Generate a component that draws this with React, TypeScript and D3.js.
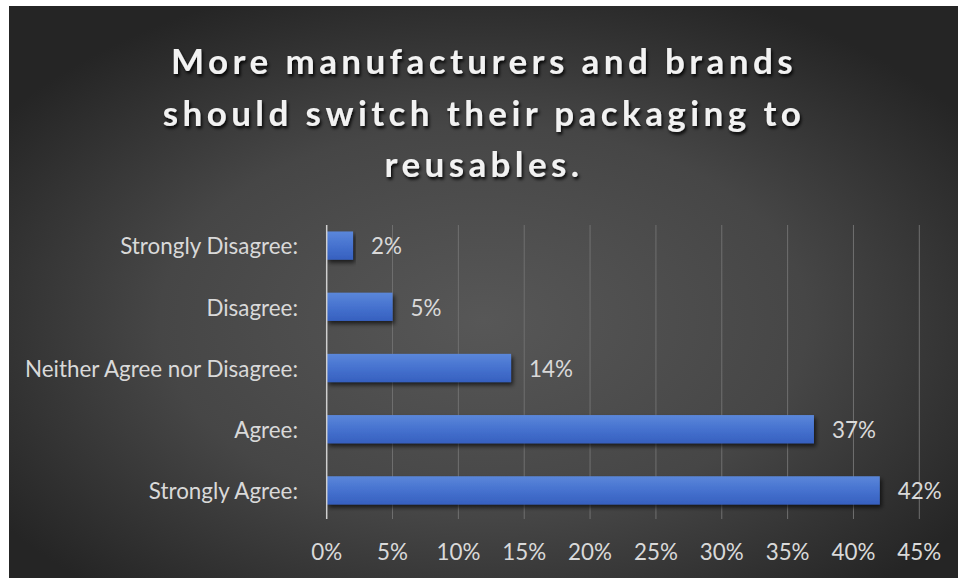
import React from "react";
import * as d3 from "d3";

const categories = [
  "Strongly Disagree:",
  "Disagree:",
  "Neither Agree nor Disagree:",
  "Agree:",
  "Strongly Agree:",
];
const values = [2, 5, 14, 37, 42];
const tickValues = [0, 5, 10, 15, 20, 25, 30, 35, 40, 45];
const titleLines = [
  "More manufacturers and brands",
  "should switch their packaging to",
  "reusables.",
];

const W = 958;
const H = 578;
const FONT = "Lato, 'Open Sans', sans-serif";

export default function App() {
  const x = d3.scaleLinear().domain([0, 45]).range([326.7, 919.3]);
  const y = d3
    .scaleBand<string>()
    .domain(categories)
    .range([215, 521])
    .paddingInner(0.538)
    .paddingOuter(0.269);
  const gridTop = 225;
  const gridBottom = 519;
  const fs = 22.4;

  return (
    <div style={{ position: "absolute", left: 0, top: 0 }}>
      <svg width={W} height={H} style={{ display: "block" }}>
        <defs>
          <radialGradient id="bg" cx="0.5" cy="0.55" r="0.62">
            <stop offset="0" stopColor="#575757" />
            <stop offset="0.55" stopColor="#464646" />
            <stop offset="1" stopColor="#252525" />
          </radialGradient>
          <linearGradient id="bar" x1="0" y1="0" x2="0" y2="1">
            <stop offset="0" stopColor="#5b87da" />
            <stop offset="0.5" stopColor="#4672cf" />
            <stop offset="1" stopColor="#3660bf" />
          </linearGradient>
          <filter id="barShadow" x="-10%" y="-30%" width="120%" height="180%">
            <feDropShadow dx="2" dy="3" stdDeviation="2" floodColor="#000" floodOpacity="0.65" />
          </filter>
          <filter id="titleShadow" x="-10%" y="-30%" width="120%" height="180%">
            <feDropShadow dx="1.5" dy="2.5" stdDeviation="1.8" floodColor="#000" floodOpacity="0.9" />
          </filter>
        </defs>
        <rect x={0} y={0} width={W} height={H} fill="#ffffff" />
        <rect x={9} y={6} width={W - 9} height={H - 6} fill="url(#bg)" />

        {/* title */}
        <g filter="url(#titleShadow)">
          {titleLines.map((t, i) => (
            <text
              key={i}
              x={484}
              y={74 + i * 51.5}
              textAnchor="middle"
              fill="#f2f2f2"
              fontFamily={FONT}
              fontWeight={700}
              fontSize={35}
              letterSpacing={4.4}
            >
              {t}
            </text>
          ))}
        </g>

        {/* gridlines */}
        {tickValues.slice(1).map((t) => (
          <line
            key={t}
            x1={x(t)}
            x2={x(t)}
            y1={gridTop}
            y2={gridBottom}
            stroke="#707070"
            strokeWidth={1}
          />
        ))}

        {/* bars */}
        {categories.map((c, i) => (
          <rect
            key={c}
            x={x(0)}
            y={y(c)}
            width={x(values[i]) - x(0)}
            height={y.bandwidth()}
            fill="url(#bar)"
            filter="url(#barShadow)"
          />
        ))}

        {/* axis line */}
        <line
          x1={x(0)}
          x2={x(0)}
          y1={gridTop}
          y2={gridBottom}
          stroke="#cfcfcf"
          strokeWidth={1.5}
        />

        {/* category labels */}
        {categories.map((c) => (
          <text
            key={c}
            x={298}
            y={(y(c) as number) + y.bandwidth() / 2 + 1}
            dy="0.35em"
            textAnchor="end"
            fill="#d9d9d9"
            fontFamily={FONT}
            fontSize={fs}
          >
            {c}
          </text>
        ))}

        {/* value labels */}
        {categories.map((c, i) => (
          <text
            key={c}
            x={x(values[i]) + 18}
            y={(y(c) as number) + y.bandwidth() / 2 + 1}
            dy="0.35em"
            fill="#d9d9d9"
            fontFamily={FONT}
            fontSize={fs}
          >
            {values[i] + "%"}
          </text>
        ))}

        {/* tick labels */}
        {tickValues.map((t) => (
          <text
            key={t}
            x={x(t)}
            y={552}
            dy="0.35em"
            textAnchor="middle"
            fill="#d9d9d9"
            fontFamily={FONT}
            fontSize={fs}
          >
            {t + "%"}
          </text>
        ))}
      </svg>
    </div>
  );
}
